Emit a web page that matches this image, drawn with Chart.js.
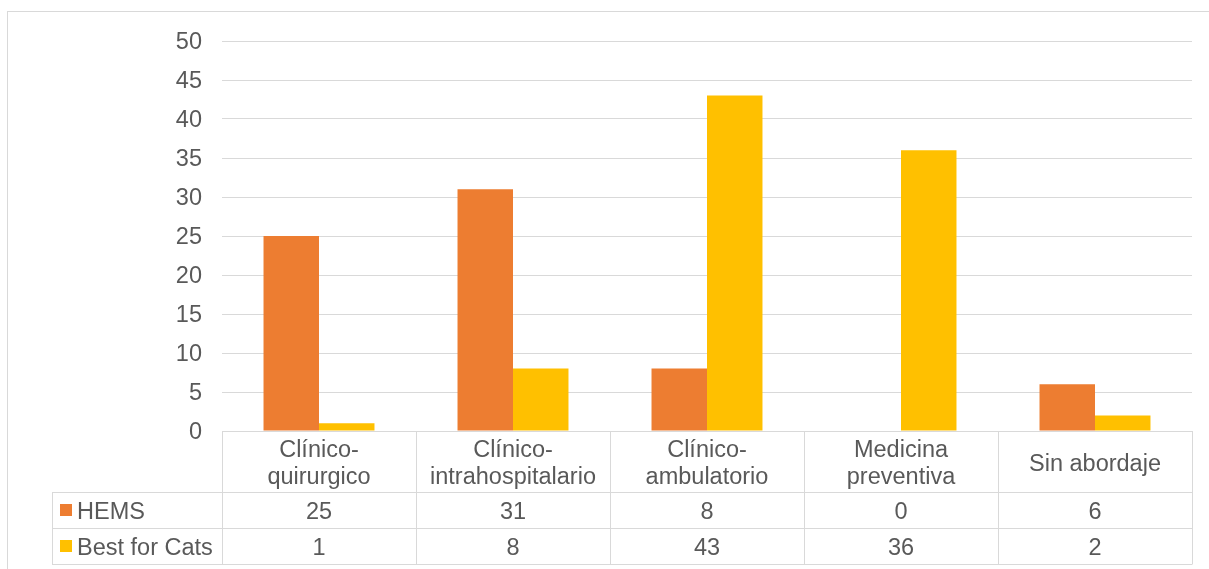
<!DOCTYPE html>
<html>
<head>
<meta charset="utf-8">
<script src="https://cdn.jsdelivr.net/npm/chart.js@4/dist/chart.umd.min.js"></script>
<style>
  html, body { margin: 0; padding: 0; background: #ffffff; }
  canvas { display: block; }
</style>
</head>
<body>
<canvas id="chart" width="1209" height="569"></canvas>
<script>
// Categories (multi-line labels shown in the data table header row)
const categories = [
  ['Clínico-', 'quirurgico'],
  ['Clínico-', 'intrahospitalario'],
  ['Clínico-', 'ambulatorio'],
  ['Medicina', 'preventiva'],
  ['Sin abordaje']
];
const seriesNames = ['HEMS', 'Best for Cats'];
const hemsValues = [25, 31, 8, 0, 6];
const catsValues = [1, 8, 43, 36, 2];
const yTicks = [0, 5, 10, 15, 20, 25, 30, 35, 40, 45, 50];

const COLORS = ['#ED7D31', '#FFC000'];
const TEXT = '#595959';
const LINE = '#D9D9D9';
const FONT_FAMILY = '"Liberation Sans", Arial, sans-serif';
const FONT_SIZE = 23.5;
const TEXT_SHIFT = 2; // optical baseline correction for "middle" text

// Outer chart frame
const framePlugin = {
  id: 'frame',
  beforeDraw(chart) {
    const ctx = chart.ctx;
    ctx.save();
    ctx.fillStyle = '#ffffff';
    ctx.fillRect(0, 0, chart.width, chart.height);
    ctx.strokeStyle = LINE;
    ctx.lineWidth = 1;
    ctx.strokeRect(7.5, 11.5, chart.width + 20, chart.height + 20);
    ctx.restore();
  }
};

// Data table drawn beneath the plot area, aligned with the category scale
const dataTablePlugin = {
  id: 'dataTable',
  afterDraw(chart) {
    const ctx = chart.ctx;
    const xs = chart.scales.x;
    const area = chart.chartArea;
    const n = categories.length;
    const colW = (area.right - area.left) / n;
    const top = area.bottom;
    const headerBottom = top + 61;
    const rowH = 36;
    const rows = [hemsValues, catsValues];
    const tableBottom = headerBottom + rowH * rows.length;
    const legendLeft = 52;

    ctx.save();
    ctx.strokeStyle = LINE;
    ctx.lineWidth = 1;
    const hLine = (x1, x2, y) => {
      ctx.beginPath();
      ctx.moveTo(x1, Math.round(y) + 0.5);
      ctx.lineTo(x2, Math.round(y) + 0.5);
      ctx.stroke();
    };
    const vLine = (x, y1, y2) => {
      ctx.beginPath();
      ctx.moveTo(Math.round(x) + 0.5, y1);
      ctx.lineTo(Math.round(x) + 0.5, y2);
      ctx.stroke();
    };
    hLine(area.left, area.right, top);
    for (let r = 0; r <= rows.length; r++) {
      hLine(legendLeft, area.right, headerBottom + r * rowH);
    }
    vLine(legendLeft, headerBottom, tableBottom + 0.5);
    for (let i = 0; i <= n; i++) {
      vLine(area.left + i * colW, top, tableBottom + 0.5);
    }

    ctx.fillStyle = TEXT;
    ctx.font = FONT_SIZE + 'px ' + FONT_FAMILY;
    ctx.textAlign = 'center';
    ctx.textBaseline = 'middle';
    const lineH = 27;
    categories.forEach((lines, i) => {
      const cx = xs.getPixelForValue(i);
      const cy = (top + headerBottom) / 2 + 1 + TEXT_SHIFT;
      const start = cy - (lines.length - 1) * lineH / 2;
      lines.forEach((t, k) => ctx.fillText(t, cx, start + k * lineH));
    });

    rows.forEach((vals, r) => {
      const cy = headerBottom + r * rowH + rowH / 2;
      vals.forEach((v, i) => {
        ctx.fillStyle = TEXT;
        ctx.textAlign = 'center';
        ctx.fillText(String(v), xs.getPixelForValue(i), cy + TEXT_SHIFT + 1);
      });
      ctx.fillStyle = COLORS[r];
      ctx.fillRect(60, Math.round(cy - 6), 12, 12);
      ctx.fillStyle = TEXT;
      ctx.textAlign = 'left';
      ctx.fillText(seriesNames[r], 77, cy + TEXT_SHIFT + 1);
    });
    ctx.restore();
  }
};

new Chart(document.getElementById('chart'), {
  type: 'bar',
  data: {
    labels: categories,
    datasets: [
      { label: seriesNames[0], data: hemsValues, backgroundColor: COLORS[0] },
      { label: seriesNames[1], data: catsValues, backgroundColor: COLORS[1] }
    ]
  },
  options: {
    responsive: false,
    animation: false,
    devicePixelRatio: 1,
    layout: { padding: { top: 41, right: 17, bottom: 138, left: 0 } },
    datasets: { bar: { categoryPercentage: 0.572, barPercentage: 1.0, borderWidth: 0 } },
    plugins: {
      legend: { display: false },
      tooltip: { enabled: false }
    },
    scales: {
      x: { display: false },
      y: {
        min: 0,
        max: 50,
        afterBuildTicks(axis) { axis.ticks = yTicks.map(v => ({ value: v })); },
        afterFit(axis) { axis.width = 222; },
        border: { display: false },
        grid: { color: LINE, lineWidth: 1, drawTicks: false },
        ticks: {
          padding: 20,
          labelOffset: TEXT_SHIFT,
          color: TEXT,
          font: { family: FONT_FAMILY, size: FONT_SIZE }
        }
      }
    }
  },
  plugins: [framePlugin, dataTablePlugin]
});
</script>
</body>
</html>
